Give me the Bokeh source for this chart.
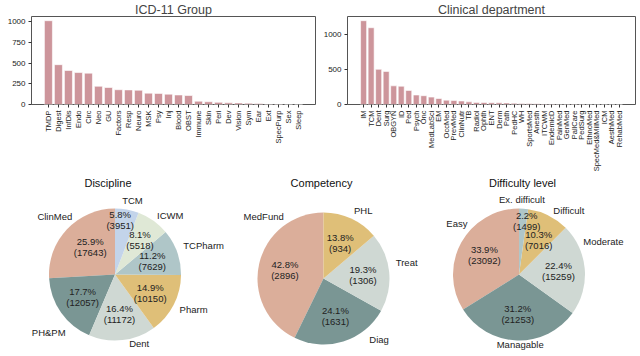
import numpy as np
from bokeh.plotting import figure
from bokeh.layouts import column, row
from bokeh.models import FactorRange, Range1d, FixedTicker
from bokeh.embed import file_html
from bokeh.resources import INLINE
from bokeh.core.properties import value

# ---------------- data ----------------
icd_groups = ["TMDP", "Digest", "InfDis", "Endo", "Circ", "Neo", "GU", "Factors", "Resp",
              "Neuro", "MSK", "Psy", "Inj", "Blood", "OBST", "Immune", "Skin", "Peri", "Dev",
              "Vision", "Sym", "Ear", "Ext", "SpecPurp", "Sex", "Sleep"]
icd_counts = [1010, 480, 410, 385, 378, 220, 205, 178, 176, 172, 137, 134, 125, 115, 108,
              40, 33, 26, 20, 19, 16, 11, 4, 2, 1, 1]
icd_ticks = [0, 250, 500, 750, 1000]

dept_names = ["IM", "TCM", "Dent", "Surg", "OBGYN", "ID", "Ped", "Psych", "Onc", "MedLabSci",
              "EM", "OccMed", "PrevMed", "ClinNutr", "TB", "Radiol", "Ophth", "ENT", "Derm",
              "Path", "PedHC", "WH", "SportsMed", "Anesth", "ITCWM", "EndemicD", "PainMed",
              "GenMed", "PallCare", "PedSurg", "EthnoMed", "SpecMed&MilMed", "ICM", "AesthMed",
              "RehabMed"]
dept_counts = [1190, 1090, 500, 470, 265, 260, 200, 135, 125, 105, 85, 62, 56, 50, 38, 30,
               28, 25, 24, 22, 18, 15, 14, 12, 8, 6, 5, 3, 2, 2, 1, 1, 1, 1, 1]
dept_ticks = [0, 500, 1000]

disc_labels = ["ClinMed", "PH&PM", "Dent", "Pharm", "TCPharm", "ICWM", "TCM"]
disc_counts = [17643, 12057, 11172, 10150, 7629, 5518, 3951]

comp_labels = ["MedFund", "Diag", "Treat", "PHL"]
comp_counts = [2896, 1631, 1306, 934]

diff_labels = ["Easy", "Managable", "Moderate", "Difficult", "Ex. difficult"]
diff_counts = [23092, 21253, 15259, 7016, 1499]

# ---------------- styles ----------------
FONT = "Liberation Sans"
BAR = "#cd959b"
SALMON, TEAL, LGRAY, GOLD, BLUEGRAY, PALEGREEN, LBLUE = (
    "#dbae9a", "#7a9694", "#cfd8d3", "#dfbf78", "#afc6c8", "#dfe8d6", "#c3d4ea")
disc_colors = [SALMON, TEAL, LGRAY, GOLD, BLUEGRAY, PALEGREEN, LBLUE]
comp_colors = [SALMON, TEAL, LGRAY, GOLD]
diff_colors = [SALMON, TEAL, LGRAY, GOLD, BLUEGRAY]

# screen-pixel nudges (dx right, dy up) for the outer labels / inner percentages
disc_lab_nudge = [(10, 8), (10, -16), (6, 3), (0, -2), (0, 4), (0, 0), (-6, 3)]
disc_pct_nudge = [(4, 0), (0, 0), (0, 0), (0, 0), (0, 0), (2, 2), (-2, 16)]
comp_lab_nudge = [(31, 46), (24, 8), (0, 9), (0, 2)]
comp_pct_nudge = [(0, 0), (0, 0), (0, 0), (0, 0)]
diff_lab_nudge = [(12, 16), (27, 3), (-8, 27), (2, -1), (-25, 3)]
diff_pct_nudge = [(0, 0), (0, 0), (0, 0), (2, -1), (5, 14)]


def bar_chart(title, cats, vals, ticks, frame_w, bl, br):
    n = len(cats)
    pad = 0.05 * (n - 0.2) - 0.1
    p = figure(x_range=FactorRange(factors=cats, range_padding=pad,
                                   range_padding_units="absolute"),
               y_range=Range1d(0, max(vals) * 1.05),
               frame_width=frame_w, frame_height=88,
               min_border_left=bl, min_border_right=br, min_border_top=0, min_border_bottom=0,
               title=title, output_backend="svg", toolbar_location=None)
    p.vbar(x=cats, top=vals, width=0.8, fill_color=BAR, line_color="white", line_width=0.6)
    p.title.text_font = FONT
    p.title.text_font_size = "12.5px"
    p.title.text_font_style = "normal"
    p.title.align = "center"
    p.title.standoff = 0
    p.title.offset = 0
    p.title.text_line_height = 0.9
    p.xgrid.grid_line_color = None
    p.ygrid.grid_line_color = None
    p.outline_line_color = "#555555"
    p.outline_line_width = 1
    p.axis.axis_line_color = None
    p.axis.major_tick_in = 0
    p.axis.major_tick_out = 3
    p.axis.major_tick_line_color = "#333333"
    p.axis.minor_tick_line_color = None
    p.axis.major_label_standoff = 3
    p.axis.major_label_text_font = FONT
    p.axis.major_label_text_color = "#222222"
    p.yaxis.major_label_text_font_size = "8px"
    p.xaxis.major_label_text_font_size = "7.5px"
    p.xaxis.major_label_orientation = np.pi / 2
    p.yaxis.ticker = FixedTicker(ticks=ticks)
    return p


def pie_chart(title, labels, counts, colors, lab_nudge, pct_nudge,
              w, h, cx, cy, title_dx, title_dy):
    s = 66.0
    p = figure(width=w, height=h,
               x_range=Range1d(-cx / s, (w - cx) / s),
               y_range=Range1d(-(h - cy) / s, cy / s),
               min_border=0, output_backend="svg", toolbar_location=None)
    p.axis.visible = False
    p.xgrid.grid_line_color = None
    p.ygrid.grid_line_color = None
    p.outline_line_color = None
    cnt = np.array(counts, dtype=float)
    frac = cnt / cnt.sum()
    ends = np.pi / 2 + 2 * np.pi * np.cumsum(frac)
    starts = ends - 2 * np.pi * frac
    mids = (starts + ends) / 2
    p.wedge(x=0, y=0, radius=1, start_angle=list(starts), end_angle=list(ends),
            fill_color=colors, line_color=None)
    # outside labels
    lx = 1.1 * np.cos(mids)
    ly = 1.1 * np.sin(mids)
    for side, cond in (("left", lx > 0), ("right", lx <= 0)):
        idx = np.where(cond)[0]
        if len(idx) == 0:
            continue
        p.text(x=list(lx[idx]), y=list(ly[idx]), text=[labels[i] for i in idx],
               x_offset=[lab_nudge[i][0] for i in idx],
               y_offset=[-lab_nudge[i][1] for i in idx],
               text_align=side, text_baseline="middle", text_font=value(FONT),
               text_font_size="9.5px", text_color="#222222")
    # inside percentages
    px = 0.6 * np.cos(mids)
    py = 0.6 * np.sin(mids)
    pct = ["%.1f%%" % (100 * f) for f in frac]
    num = ["(%d)" % c for c in counts]
    dx = [d[0] for d in pct_nudge]
    dy = [-d[1] for d in pct_nudge]
    p.text(x=list(px), y=list(py), text=pct, x_offset=dx, y_offset=dy,
           text_align="center", text_baseline="bottom",
           text_font=value(FONT), text_font_size="9.5px", text_color="#222222")
    p.text(x=list(px), y=list(py), text=num, x_offset=dx, y_offset=dy,
           text_align="center", text_baseline="top",
           text_font=value(FONT), text_font_size="9.5px", text_color="#222222")
    p.text(x=[title_dx / s], y=[title_dy / s], text=[title], text_align="center",
           text_baseline="middle", text_font=value(FONT), text_font_size="11px",
           text_color="#111111")
    return p


p1 = bar_chart("ICD-11 Group", icd_groups, icd_counts, icd_ticks, 284, 31, 5)
p2 = bar_chart("Clinical department", dept_names, dept_counts, dept_ticks, 288, 25, 5)

PH = 178
q1 = pie_chart("Discipline", disc_labels, disc_counts, disc_colors,
               disc_lab_nudge, disc_pct_nudge, 226, PH, 114.5, 100, -7, 92)
q2 = pie_chart("Competency", comp_labels, comp_counts, comp_colors,
               comp_lab_nudge, comp_pct_nudge, 194, PH, 97, 104, -2, 96)
q3 = pie_chart("Difficulty level", diff_labels, diff_counts, diff_colors,
               diff_lab_nudge, diff_pct_nudge, 218, PH, 98.5, 100, 3.5, 92)

layout = column(row(p1, p2, align="start"), row(q1, q2, q3), spacing=0)
open("out.html", "w").write(file_html(layout, INLINE))
